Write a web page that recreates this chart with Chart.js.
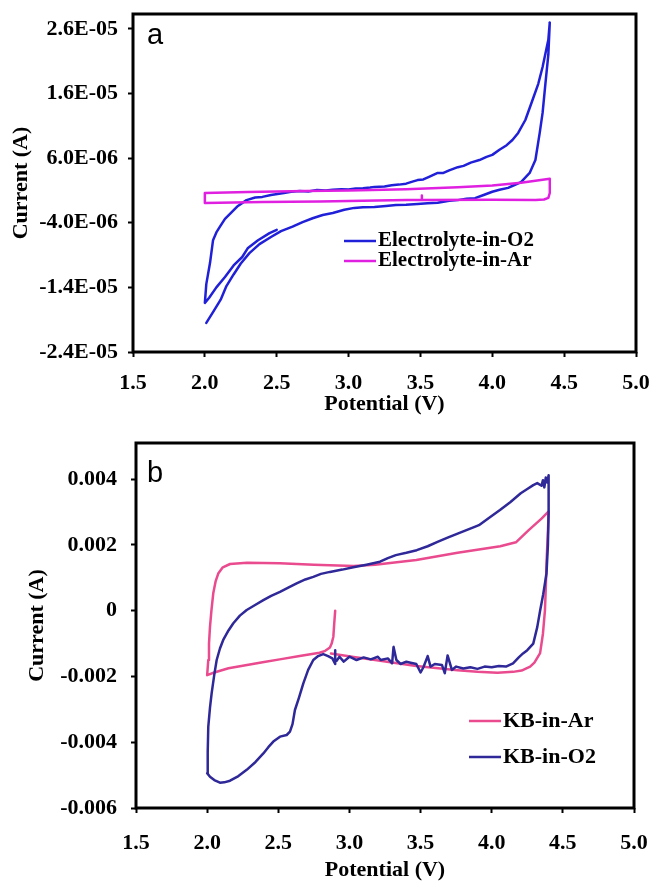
<!DOCTYPE html>
<html><head><meta charset="utf-8">
<script src="https://cdn.jsdelivr.net/npm/chart.js@4.4.0/dist/chart.umd.min.js"></script>
<style>
html,body{margin:0;padding:0;background:#fff;}
#wrap{position:relative;width:651px;height:881px;background:#fff;}
canvas{position:absolute;left:0;}
#ca{top:0;} #cb{top:420px;}
</style></head><body>
<div id="wrap"><canvas id="ca" width="651" height="420"></canvas><canvas id="cb" width="651" height="461"></canvas></div>
<script>
// ---------- shared axis ----------
const xTicks = [1.5, 2.0, 2.5, 3.0, 3.5, 4.0, 4.5, 5.0];
const xTickLabels = ['1.5', '2.0', '2.5', '3.0', '3.5', '4.0', '4.5', '5.0'];

// ---------- panel a ----------
const yTicksA = [-2.4e-5, -1.4e-5, -4.0e-6, 6.0e-6, 1.6e-5, 2.6e-5];
const yTickLabelsA = ['-2.4E-05', '-1.4E-05', '-4.0E-06', '6.0E-06', '1.6E-05', '2.6E-05'];
const seriesNamesA = ['Electrolyte-in-O2', 'Electrolyte-in-Ar'];

const elecO2V = [2.50, 2.45, 2.37, 2.30, 2.26, 2.20, 2.14, 2.08, 2.03, 2.00,
  2.01, 2.036, 2.057, 2.08, 2.105, 2.14, 2.18, 2.23, 2.29, 2.35, 2.40, 2.46, 2.55, 2.60, 2.66, 2.72, 2.78, 2.84, 2.89,
  2.95, 3.00, 3.05, 3.10, 3.15, 3.18, 3.25, 3.30, 3.35, 3.40, 3.45, 3.48, 3.52, 3.56, 3.62, 3.66, 3.70,
  3.76, 3.80, 3.85, 3.91, 3.96, 4.00, 4.05, 4.10, 4.14, 4.18, 4.23, 4.28, 4.32, 4.35, 4.39, 4.40,
  4.39, 4.37, 4.35, 4.33, 4.30, 4.26, 4.20, 4.15, 4.11, 4.05, 4.00, 3.94, 3.88, 3.82, 3.76, 3.70,
  3.62, 3.55, 3.48, 3.40, 3.33, 3.26, 3.18, 3.10, 3.04, 2.97, 2.89, 2.82, 2.75, 2.68, 2.61, 2.53,
  2.46, 2.38, 2.31, 2.25, 2.20, 2.15, 2.11, 2.06, 2.01];
const elecO2I = [-5.1e-6, -5.6e-6, -6.7e-6, -7.9e-6, -9.3e-6, -10.6e-6, -12.4e-6, -14.0e-6, -15.6e-6, -16.4e-6,
  -13.5e-6, -10.2e-6, -6.7e-6, -5.5e-6, -4.6e-6, -3.4e-6, -2.5e-6, -1.4e-6, -0.5e-6, -0.1e-6, 0.0e-6, 0.3e-6, 0.6e-6, 0.8e-6, 0.9e-6, 0.85e-6, 1.05e-6, 1.0e-6, 1.1e-6,
  1.2e-6, 1.15e-6, 1.3e-6, 1.35e-6, 1.45e-6, 1.55e-6, 1.6e-6, 1.8e-6, 1.9e-6, 2.05e-6, 2.4e-6, 2.6e-6, 2.7e-6, 3.1e-6, 3.7e-6, 3.7e-6, 4.1e-6,
  4.6e-6, 4.8e-6, 5.3e-6, 5.7e-6, 6.2e-6, 6.5e-6, 7.3e-6, 8.0e-6, 8.8e-6, 9.9e-6, 11.9e-6, 15.0e-6, 17.5e-6, 20.1e-6, 24.3e-6, 27.0e-6,
  22.0e-6, 17.6e-6, 13.0e-6, 9.9e-6, 5.7e-6, 3.7e-6, 2.3e-6, 1.8e-6, 1.4e-6, 1.1e-6, 0.8e-6, 0.3e-6, -0.2e-6, -0.3e-6, -0.5e-6, -0.6e-6,
  -0.9e-6, -1.0e-6, -1.1e-6, -1.2e-6, -1.25e-6, -1.4e-6, -1.55e-6, -1.6e-6, -1.7e-6, -2.0e-6, -2.5e-6, -2.8e-6, -3.3e-6, -3.9e-6, -4.6e-6, -5.3e-6,
  -6.2e-6, -7.3e-6, -8.7e-6, -10.3e-6, -12.0e-6, -13.8e-6, -15.9e-6, -17.7e-6, -19.5e-6];

const elecArV = [3.51, 3.51, 3.20, 2.80, 2.40, 2.10, 2.00, 2.00, 2.30, 2.70, 3.00, 3.40, 3.76, 4.00, 4.20, 4.40,
  4.40, 4.39, 4.36, 4.30, 4.00, 3.51];
const elecArI = [0.2e-6, -0.45e-6, -0.55e-6, -0.7e-6, -0.8e-6, -0.9e-6, -0.93e-6, 0.6e-6, 0.75e-6, 0.9e-6, 1.0e-6, 1.2e-6, 1.5e-6, 1.75e-6, 2.2e-6, 2.8e-6,
  0.6e-6, -0.15e-6, -0.4e-6, -0.47e-6, -0.45e-6, -0.47e-6];

// ---------- panel b ----------
const yTicksB = [-0.006, -0.004, -0.002, 0, 0.002, 0.004];
const yTickLabelsB = ['-0.006', '-0.004', '-0.002', '0', '0.002', '0.004'];
const seriesNamesB = ['KB-in-Ar', 'KB-in-O2'];

const kbArV = [2.90, 2.893, 2.887, 2.875, 2.863, 2.83, 2.79, 2.65, 2.51, 2.40, 2.28, 2.15, 2.05, 2.00,
  2.008, 2.013, 2.020, 2.03, 2.043, 2.06, 2.078, 2.11, 2.161, 2.28, 2.51, 2.75, 3.03, 3.18, 3.47, 3.76, 4.06, 4.17, 4.26, 4.35, 4.40,
  4.395, 4.386, 4.38, 4.374, 4.36, 4.34, 4.30, 4.27, 4.21, 4.15, 4.04, 3.90, 3.76, 3.47, 3.18, 3.03, 2.87];
const kbArI = [0.0, -0.40e-3, -0.79e-3, -1.00e-3, -1.12e-3, -1.22e-3, -1.28e-3, -1.38e-3, -1.48e-3, -1.56e-3, -1.65e-3, -1.75e-3, -1.88e-3, -1.96e-3,
  -1.50e-3, -1.00e-3, -0.49e-3, 0.0, 0.53e-3, 0.90e-3, 1.13e-3, 1.32e-3, 1.42e-3, 1.46e-3, 1.44e-3, 1.40e-3, 1.36e-3, 1.40e-3, 1.54e-3, 1.76e-3, 1.96e-3, 2.08e-3, 2.45e-3, 2.80e-3, 3.02e-3,
  2.40e-3, 1.54e-3, 0.70e-3, 0.0, -0.70e-3, -1.29e-3, -1.58e-3, -1.70e-3, -1.82e-3, -1.86e-3, -1.89e-3, -1.86e-3, -1.81e-3, -1.68e-3, -1.50e-3, -1.41e-3, -1.30e-3];

const kbO2V = [2.90, 2.90, 2.88, 2.85, 2.816, 2.78, 2.746, 2.71, 2.676, 2.645, 2.617, 2.60, 2.582, 2.559, 2.512, 2.465, 2.43, 2.395, 2.34, 2.278, 2.22, 2.161, 2.12, 2.09, 2.05, 2.02, 2.00,
  2.004, 2.008, 2.02, 2.032, 2.05, 2.067, 2.09, 2.113, 2.15, 2.184, 2.23, 2.278, 2.34, 2.395, 2.45, 2.512, 2.57, 2.629, 2.69, 2.746, 2.80, 2.863, 2.95, 3.027, 3.12, 3.215, 3.27, 3.326,
  3.40, 3.473, 3.55, 3.619, 3.69, 3.765, 3.84, 3.88, 3.91, 3.98, 4.058, 4.13, 4.204, 4.25, 4.292, 4.32, 4.35, 4.36, 4.37, 4.38, 4.39, 4.40,
  4.40, 4.40, 4.395, 4.385, 4.362, 4.34, 4.32, 4.292, 4.25, 4.22, 4.19, 4.15, 4.10, 4.05, 4.00, 3.95, 3.90, 3.85, 3.80, 3.75, 3.72,
  3.69, 3.67, 3.65, 3.60, 3.57, 3.55, 3.52, 3.50, 3.47, 3.43, 3.40, 3.36, 3.33, 3.31, 3.30, 3.27, 3.22, 3.20, 3.15, 3.10, 3.05, 3.00, 2.96, 2.93, 2.91];
const kbO2I = [-1.20e-3, -1.62e-3, -1.45e-3, -1.38e-3, -1.32e-3, -1.38e-3, -1.50e-3, -1.80e-3, -2.21e-3, -2.65e-3, -3.02e-3, -3.45e-3, -3.68e-3, -3.78e-3, -3.83e-3, -3.98e-3, -4.15e-3, -4.34e-3, -4.60e-3, -4.84e-3, -5.03e-3, -5.17e-3, -5.22e-3, -5.23e-3, -5.15e-3, -5.05e-3, -4.94e-3,
  -4.30e-3, -3.53e-3, -2.95e-3, -2.50e-3, -1.95e-3, -1.50e-3, -1.15e-3, -0.89e-3, -0.60e-3, -0.38e-3, -0.15e-3, 0.02e-3, 0.18e-3, 0.32e-3, 0.45e-3, 0.57e-3, 0.70e-3, 0.83e-3, 0.95e-3, 1.03e-3, 1.12e-3, 1.18e-3, 1.25e-3, 1.32e-3, 1.40e-3, 1.49e-3, 1.60e-3, 1.69e-3,
  1.76e-3, 1.84e-3, 1.96e-3, 2.09e-3, 2.22e-3, 2.35e-3, 2.48e-3, 2.55e-3, 2.60e-3, 2.82e-3, 3.06e-3, 3.30e-3, 3.57e-3, 3.70e-3, 3.82e-3, 3.88e-3, 3.80e-3, 3.97e-3, 3.75e-3, 4.05e-3, 3.90e-3, 4.12e-3,
  3.60e-3, 3.00e-3, 2.00e-3, 1.13e-3, 0.50e-3, 0.0, -0.50e-3, -1.00e-3, -1.20e-3, -1.30e-3, -1.42e-3, -1.60e-3, -1.70e-3, -1.68e-3, -1.72e-3, -1.70e-3, -1.77e-3, -1.72e-3, -1.76e-3, -1.70e-3, -1.80e-3,
  -1.36e-3, -1.90e-3, -1.65e-3, -1.62e-3, -1.70e-3, -1.38e-3, -1.72e-3, -1.88e-3, -1.62e-3, -1.58e-3, -1.55e-3, -1.62e-3, -1.50e-3, -1.10e-3, -1.60e-3, -1.45e-3, -1.50e-3, -1.40e-3, -1.48e-3, -1.42e-3, -1.50e-3, -1.40e-3, -1.55e-3, -1.40e-3, -1.52e-3];

// ---------- helpers ----------
const SERIF = '"Liberation Serif", "Times New Roman", serif';
const pts = (xs, ys) => xs.map((x, i) => ({x: x, y: ys[i]}));

const framePlugin = {
  id: 'frameAndLegend',
  afterDraw(chart, args, opts) {
    const {ctx, chartArea: a} = chart;
    ctx.save();
    ctx.strokeStyle = '#000';
    ctx.lineWidth = 3;
    ctx.strokeRect(a.left, a.top, a.right - a.left, a.bottom - a.top);
    // panel letter
    ctx.fillStyle = '#000';
    ctx.font = '29px "Liberation Sans", Arial, sans-serif';
    ctx.textBaseline = 'alphabetic';
    ctx.textAlign = 'left';
    ctx.fillText(opts.letter, opts.letterX, opts.letterY);
    // legend
    ctx.font = 'bold ' + opts.legendSize + 'px ' + SERIF;
    ctx.textBaseline = 'middle';
    opts.legendOrder.forEach((di, k) => {
      const ds = chart.data.datasets[di];
      const y = opts.legendY + k * opts.legendGap;
      ctx.strokeStyle = ds.borderColor;
      ctx.lineWidth = 2.5;
      ctx.beginPath();
      ctx.moveTo(opts.legendX, y);
      ctx.lineTo(opts.legendX + opts.legendLine, y);
      ctx.stroke();
      ctx.fillStyle = '#000';
      ctx.fillText(ds.label, opts.legendX + opts.legendLine + 2, y);
    });
    ctx.restore();
  }
};

function makeAxes(yMin, yMax, yTicks, yLabels, yWidth, xHeight, yTitlePad, xTitlePad, yLabelPad, xLabelPad) {
  const tickFont = {family: SERIF, weight: 'bold', size: 22};
  const titleFont = {family: SERIF, weight: 'bold', size: 22, lineHeight: 1};
  return {
    x: {
      type: 'linear', min: 1.5, max: 5.0,
      afterBuildTicks: s => { s.ticks = xTicks.map(v => ({value: v})); },
      afterFit: s => { s.height = xHeight; s.paddingLeft = 0; s.paddingRight = 0; },
      ticks: {autoSkip: false, maxRotation: 0, color: '#000', font: tickFont, padding: xLabelPad,
        callback: (v, i) => xTickLabels[i]},
      grid: {display: true, drawOnChartArea: false, drawTicks: true, tickLength: 5, tickWidth: 2, tickColor: '#000'},
      border: {display: false},
      title: {display: true, text: 'Potential (V)', color: '#000', font: titleFont, padding: {top: 0, bottom: xTitlePad}}
    },
    y: {
      type: 'linear', min: yMin, max: yMax,
      afterBuildTicks: s => { s.ticks = yTicks.map(v => ({value: v})); },
      afterFit: s => { s.width = yWidth; s.paddingTop = 0; s.paddingBottom = 0; },
      ticks: {autoSkip: false, color: '#000', font: tickFont, padding: yLabelPad,
        callback: (v, i) => yLabels[i]},
      grid: {display: true, drawOnChartArea: false, drawTicks: true, tickLength: 5, tickWidth: 2, tickColor: '#000'},
      border: {display: false},
      title: {display: true, text: 'Current (A)', color: '#000', font: titleFont, padding: {top: yTitlePad, bottom: 0}}
    }
  };
}

const lineDs = (label, data, color) => ({
  label: label, data: data, borderColor: color, backgroundColor: color,
  borderWidth: 2.5, pointRadius: 0, showLine: true, tension: 0, fill: false,
  borderJoinStyle: 'round', borderCapStyle: 'round'
});

// ---------- chart a ----------
new Chart(document.getElementById('ca'), {
  type: 'scatter',
  data: {datasets: [
    lineDs(seriesNamesA[1], pts(elecArV, elecArI), '#e020e0'),
    lineDs(seriesNamesA[0], pts(elecO2V, elecO2I), '#2020d8')
  ]},
  options: {
    responsive: false, animation: false, devicePixelRatio: 1,
    layout: {padding: {top: 14, right: 15, left: 0, bottom: 0}},
    plugins: {legend: {display: false}, tooltip: {enabled: false},
      frameAndLegend: {letter: 'a', letterX: 147, letterY: 44, legendOrder: [1, 0], legendX: 344, legendY: 241, legendGap: 20, legendLine: 32, legendSize: 21}},
    scales: makeAxes(-2.4e-5, 2.83e-5, yTicksA, yTickLabelsA, 133, 68, 10, 5, 10, 13)
  },
  plugins: [framePlugin]
});

// ---------- chart b ----------
new Chart(document.getElementById('cb'), {
  type: 'scatter',
  data: {datasets: [
    lineDs(seriesNamesB[1], pts(kbO2V, kbO2I), '#2e2898'),
    lineDs(seriesNamesB[0], pts(kbArV, kbArI), '#ea4a8e')
  ]},
  options: {
    responsive: false, animation: false, devicePixelRatio: 1,
    layout: {padding: {top: 23, right: 17, left: 0, bottom: 0}},
    plugins: {legend: {display: false}, tooltip: {enabled: false},
      frameAndLegend: {letter: 'b', letterX: 147, letterY: 62, legendOrder: [1, 0], legendX: 469, legendY: 301, legendGap: 36, legendLine: 32, legendSize: 22}},
    scales: makeAxes(-0.006, 0.0051, yTicksB, yTickLabelsB, 136, 73, 26, 0, 14, 17)
  },
  plugins: [framePlugin]
});
</script>
</body></html>
